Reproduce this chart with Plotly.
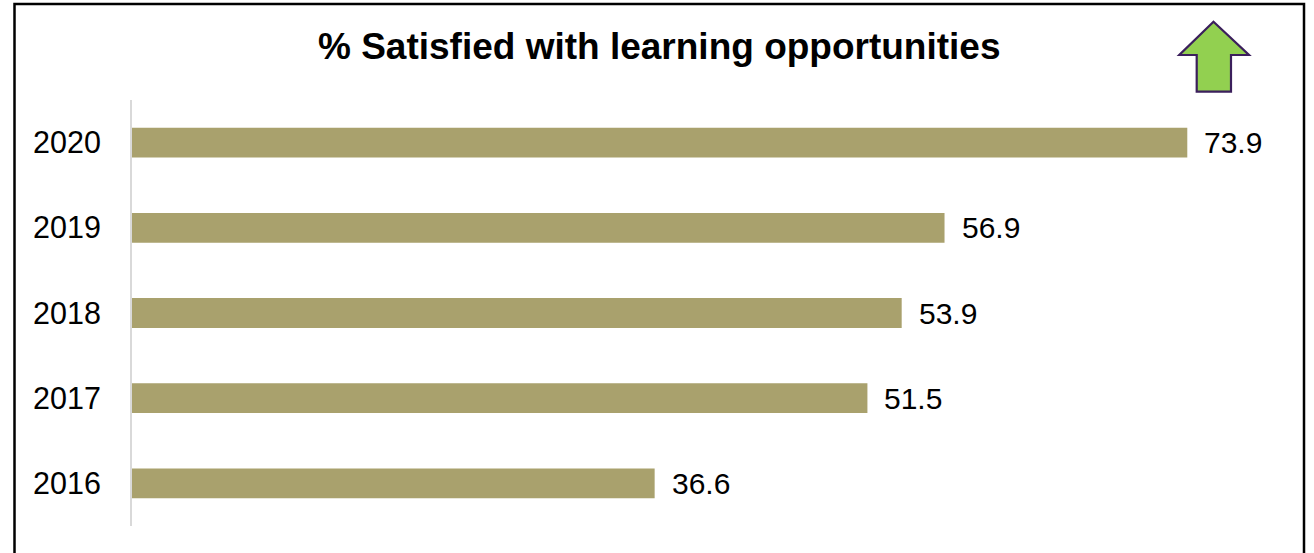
import plotly.graph_objects as go

years = ["2016", "2017", "2018", "2019", "2020"]
values = [36.6, 51.5, 53.9, 56.9, 73.9]
title_text = "% Satisfied with learning opportunities"

W, H = 1314, 553
FONT = "Arial, Liberation Sans, sans-serif"

def px(x):
    return x / W

def py(y):
    return 1 - y / H

fig = go.Figure()
fig.add_trace(go.Bar(
    x=values, y=years, orientation="h",
    marker=dict(color="#A9A16D", line=dict(width=0)),
    hoverinfo="skip",
))

for i, v in enumerate(values):
    fig.add_annotation(
        x=v, y=i, xref="x", yref="y", text=f"{v:.1f}",
        showarrow=False, xanchor="left", yanchor="middle", xshift=15,
        font=dict(family=FONT, size=30, color="#000000"),
    )

fig.add_annotation(
    x=px(659), y=py(46), xref="paper", yref="paper", text=f"<b>{title_text}</b>",
    showarrow=False, xanchor="center", yanchor="middle",
    font=dict(family=FONT, size=37, color="#000000"),
)

# border
fig.add_shape(type="rect", xref="paper", yref="paper",
              x0=px(14.5), x1=px(1304), y0=-0.1, y1=py(4),
              line=dict(color="#000000", width=2.5), fillcolor="rgba(0,0,0,0)")

# arrow
pts = [(1213.5, 21.7), (1249, 55), (1231, 55), (1231, 91.7), (1196.7, 91.7), (1196.7, 55), (1179.3, 55)]
path = "M " + " L ".join(f"{px(a):.5f},{py(b):.5f}" for a, b in pts) + " Z"
fig.add_shape(type="path", xref="paper", yref="paper", path=path,
              fillcolor="#92D050", line=dict(color="#3B1F5C", width=2.2))

xmax = 80
scale = 14.28
fig.update_layout(
    width=W, height=H,
    margin=dict(l=0, r=0, t=0, b=0),
    paper_bgcolor="white", plot_bgcolor="white",
    showlegend=False,
    bargap=0.65,
    xaxis=dict(range=[0, xmax], domain=[px(132), px(132 + xmax * scale)],
               showgrid=False, zeroline=False, showticklabels=False, showline=False, fixedrange=True),
    yaxis=dict(type="category", categoryorder="array", categoryarray=years,
               range=[-0.5, len(years) - 0.5], autorange=False,
               domain=[py(526), py(100)],
               showgrid=False, zeroline=False, showline=True, linecolor="#D9D9D9", linewidth=2,
               ticks="", ticklabelstandoff=23,
               tickfont=dict(family=FONT, size=30.5, color="#000000")),
)

fig.write_html("out.html")
